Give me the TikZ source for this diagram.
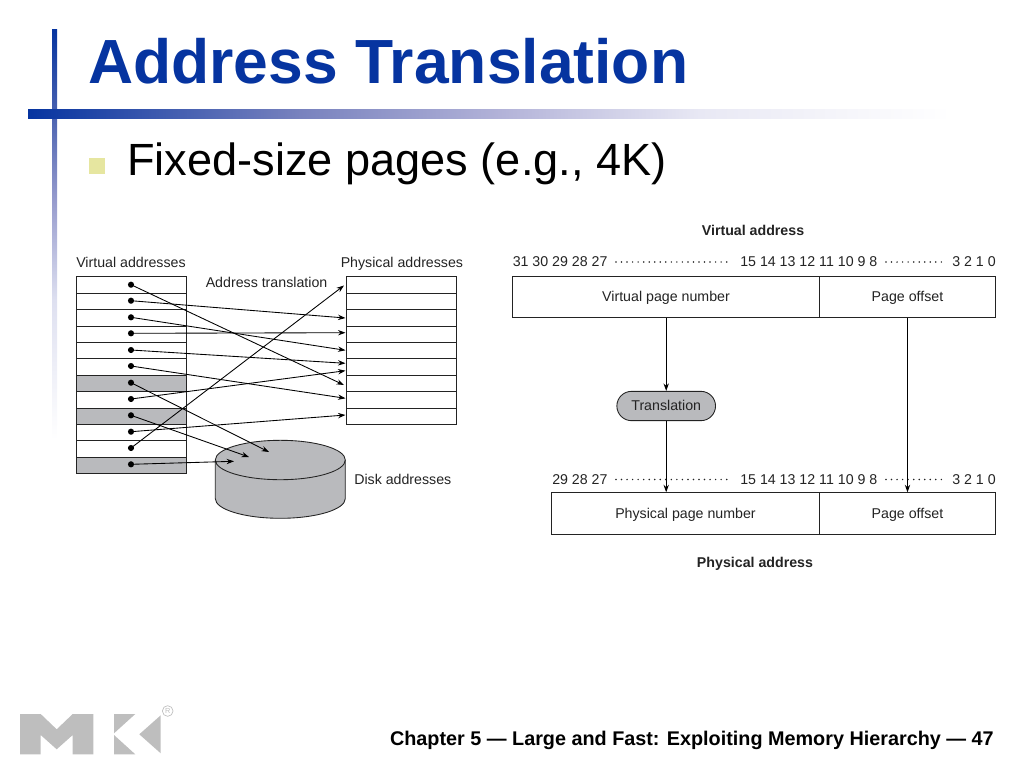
\documentclass[tikz,border=0pt]{standalone}
\usepackage{fontspec}
\usetikzlibrary{arrows.meta,shapes.misc}
\setmainfont{Liberation Sans}
\definecolor{titleblue}{RGB}{6,52,160}
\definecolor{bulletc}{RGB}{230,230,160}
\definecolor{cellgray}{RGB}{185,186,189}
\definecolor{inkc}{RGB}{35,35,35}
\definecolor{logoc}{RGB}{190,190,190}
\definecolor{fa}{RGB}{120,130,190}
\definecolor{fb}{RGB}{178,178,216}
\definecolor{fc}{RGB}{232,232,244}
\definecolor{fd}{RGB}{222,224,240}
\definecolor{fe}{RGB}{150,155,205}
\definecolor{ff}{RGB}{70,95,175}
\pgfdeclarehorizontalshading{hbar}{100bp}{color(0bp)=(titleblue);color(25bp)=(titleblue);color(39.6bp)=(fa);color(50.3bp)=(fb);color(61bp)=(fc);color(74.5bp)=(white);color(100bp)=(white)}
\pgfdeclareverticalshading{vbar}{100bp}{color(0bp)=(white);color(25bp)=(white);color(42bp)=(fd);color(54.2bp)=(fe);color(65.1bp)=(ff);color(75bp)=(titleblue);color(100bp)=(titleblue)}
\tikzset{
  >={Stealth[length=5.6pt,width=4pt]},
  small/.style={font=\fontsize{10.65}{13}\selectfont,text=inkc,inner sep=0pt},
  smallb/.style={small,font=\fontsize{10.65}{13}\selectfont\bfseries},
  bits/.style={small,anchor=base},
  line/.style={draw=inkc,line width=0.65pt},
  conn/.style={draw=black,line width=0.65pt,->},
  cell/.style={line,fill=white},
  gcell/.style={line,fill=cellgray},
  dots/.style={draw=inkc,line width=1.25pt,line cap=round,dash pattern=on 0pt off 4.15pt},
  dotm/.style={circle,fill=black,inner sep=0pt,minimum size=4.6pt},
  fld/.style={line,fill=white,minimum height=31.2pt,inner sep=0pt,text height=7pt,text depth=0pt,font=\fontsize{10.65}{13}\selectfont,text=inkc},
}
\begin{document}
\begin{tikzpicture}[x=0.75pt,y=-0.75pt]
\useasboundingbox (0,0) rectangle (1024,768);
% slide decoration
\shade[shading=vbar] (52,29) rectangle (57,440);
\shade[shading=hbar] (28,109) rectangle (960,118);
\node[anchor=base west,inner sep=0pt,text=titleblue,font=\fontsize{46.8}{50}\selectfont\bfseries] (title) at (88,83) {Address Translation};
\fill[bulletc] (89,158) rectangle (105,174);
\node[anchor=base west,inner sep=0pt,text=black,font=\fontsize{33.85}{38}\selectfont] (body) at (127,175.5) {Fixed-size pages (e.g., 4K)};
% left: virtual grid
\foreach \i/\a/\b in {1/276.7/293.3,2/293.3/309.3,3/309.3/326,4/326/342.3,5/342.3/358.7,6/358.7/375.3,8/391.7/408,10/424.3/440.7,11/440.7/457.3}
  \path[cell] (76.5,\a) rectangle (186,\b);
\foreach \i/\a/\b in {7/375.3/391.7,9/408/424.3,12/457.3/473.3}
  \path[gcell] (76.5,\a) rectangle (186,\b);
% physical grid
\foreach \a/\b in {276.7/293.3,293.3/309.3,309.3/326,326/342.3,342.3/358.7,358.7/375.3,375.3/391.7,391.7/408,408/424.3}
  \path[cell] (346.5,\a) rectangle (456,\b);
% disk
\path[gcell] (215.3,460) -- (215.3,498.6) arc[start angle=180,end angle=360,x radius=65,y radius=-19.7] -- (345.3,460) arc[start angle=0,end angle=180,x radius=65,y radius=-19.7] -- cycle;
\path[line] (215.3,460) arc[start angle=180,end angle=360,x radius=65,y radius=-19.7];
% labels
\node[small,anchor=base west] (lv) at (76,267) {Virtual addresses};
\node[small,anchor=base west] (lp) at (340.5,267) {Physical addresses};
\node[small,anchor=base west] (lt) at (205.5,287) {Address translation};
\node[small,anchor=base west] (ld) at (354,484) {Disk addresses};
% dots
\foreach \n/\y in {1/284.7,2/300.7,3/317.3,4/333.3,5/350,6/366,7/382.7,8/399,9/415.3,10/431.7,11/448,12/464.3}
  \node[dotm] (d\n) at (131,\y) {};
% targets
\coordinate (t1) at (344,385);
\coordinate (t2) at (345.5,318);
\coordinate (t3) at (345.5,350.3);
\coordinate (t4) at (345.5,332.7);
\coordinate (t5) at (345.5,363.3);
\coordinate (t6) at (345.5,398.3);
\coordinate (t7) at (269,452);
\coordinate (t8) at (345.5,370.7);
\coordinate (t9) at (249,457);
\coordinate (t10) at (345.5,415);
\coordinate (t11) at (344,285.5);
\coordinate (t12) at (234,461.3);
\foreach \n in {1,...,12}
  \draw[conn] (d\n.center) -- (t\n);
% right: virtual address
\node[smallb,anchor=base] (va) at (753,235) {Virtual address};
\node[bits,anchor=base west] (b1) at (512.5,266.5) {31 30 29 28 27};
\node[bits,anchor=base west] (b2) at (740,266.5) {15 14 13 12 11 10 9 8};
\node[bits,anchor=base east] (b3) at (996,266.5) {3 2 1 0};
\draw[dots] (616,262) -- (731,262);
\draw[dots] (886,262) -- (944,262);
\node[fld,minimum width=230.6pt] (vpn) at (666,297) {Virtual page number};
\node[fld,minimum width=132.3pt] (vpo) at (907.5,297) {Page offset};
\node[rounded rectangle,line,fill=cellgray,minimum width=74pt,minimum height=22pt,inner sep=0pt,text height=7pt,text depth=0pt,font=\fontsize{10.65}{13}\selectfont,text=inkc] (tr) at (666.2,406) {Translation};
% physical address
\node[bits,anchor=base west] (c1) at (552,484) {29 28 27};
\node[bits,anchor=base west] (c2) at (740,484) {15 14 13 12 11 10 9 8};
\node[bits,anchor=base east] (c3) at (996,484) {3 2 1 0};
\draw[dots] (616,479.5) -- (731,479.5);
\draw[dots] (886,479.5) -- (944,479.5);
\node[fld,minimum width=201.2pt] (ppn) at (685.5,513.5) {Physical page number};
\node[fld,minimum width=132.2pt] (ppo) at (907.5,513.5) {Page offset};
\node[smallb,anchor=base] (pa) at (755,567) {Physical address};
\draw[conn] (vpn.south -| tr.north) -- (tr.north);
\draw[conn] (tr.south) -- (tr.south |- ppn.north);
\draw[conn] (vpo.south) -- (ppo.north);
% footer
\node[anchor=base east,inner sep=0pt,text=black,font=\fontsize{14.85}{18}\selectfont\bfseries] (foot) at (994,745) {Chapter 5 — Large and Fast: Exploiting Memory Hierarchy — 47};
% logo
\fill[logoc] (20,714) -- (40.7,714) -- (56.7,729.3) -- (72.7,714) -- (93.3,714) -- (93.3,754.3) -- (72.7,754.3) -- (72.7,735) -- (56.7,749.3) -- (40.7,735) -- (40.7,754.3) -- (20,754.3) -- cycle;
\fill[logoc] (114,714) -- (135.3,714) -- (114,733.3) -- cycle;
\fill[logoc] (114,735) -- (135.3,754.3) -- (114,754.3) -- cycle;
\fill[logoc] (160.7,715.3) -- (160.7,753.3) -- (139.3,734.3) -- cycle;
\node[circle,draw=logoc,line width=0.5pt,inner sep=0pt,minimum size=8pt,text=logoc,font=\fontsize{5.5}{6}\selectfont] (reg) at (167.7,711) {R};
\end{tikzpicture}
\end{document}
